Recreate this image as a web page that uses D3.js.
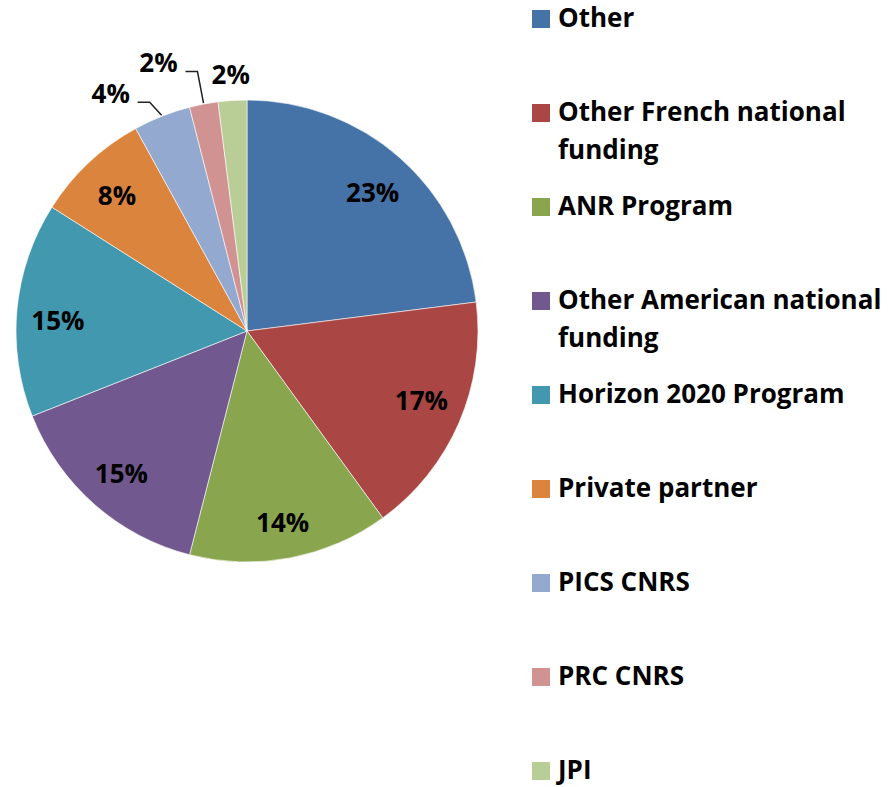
<!DOCTYPE html>
<html>
<head>
<meta charset="utf-8">
<script src="https://cdn.jsdelivr.net/npm/d3@7"></script>
<style>
  body { margin: 0; background: #fff; }
  text { font-family: "Open Sans", Lato, sans-serif; font-weight: 700; fill: #000; }
</style>
</head>
<body>
<div id="chart"></div>
<script>
// データ
const categories = [
  'Other', 'Other French national funding', 'ANR Program',
  'Other American national funding', 'Horizon 2020 Program', 'Private partner',
  'PICS CNRS', 'PRC CNRS', 'JPI'
]
const values = [23, 17, 14, 15, 15, 8, 4, 2, 2]
const legendLines = [
  ['Other'], ['Other French national', 'funding'], ['ANR Program'],
  ['Other American national', 'funding'], ['Horizon 2020 Program'], ['Private partner'],
  ['PICS CNRS'], ['PRC CNRS'], ['JPI']
]
const colors = ['#4572A7', '#AA4643', '#89A54E', '#71588F', '#4198AF', '#DB843D', '#93A9CF', '#D19392', '#B9CD96']

const W = 889, H = 787
const cx = 247, cy = 331, R = 231
const FONT = 26

const svg = d3.select('#chart')
              .append('svg')
              .attr('width', W)
              .attr('height', H)

const pie = d3.pie().sort(null).value(d => d)
const arcs = pie(values)
const arc = d3.arc().innerRadius(0).outerRadius(R)
const labelArc = d3.arc().innerRadius(190).outerRadius(190)
const outerArc = d3.arc().innerRadius(259).outerRadius(259)
const edgeArc = d3.arc().innerRadius(232).outerRadius(232)

const g = svg.append('g').attr('transform', `translate(${cx},${cy})`)

// 扇形
g.selectAll('path.slice')
  .data(arcs)
  .enter()
  .append('path')
  .attr('class', 'slice')
  .attr('d', arc)
  .attr('fill', (d, i) => colors[i])
  .attr('stroke', '#fff')
  .attr('stroke-width', 0.6)

// ラベル（小さい扇形は外側）
const small = d => d.data < 5
const nudgeX = [0, 0, 0, 0, 0, 0, -41, -40, 0]   // 外側ラベルのずらし
const nudgeY = [4, -6, 5, 0, 7, 3, 3, -14, 2]
const labelPos = (d, i) => {
  const p = small(d) ? outerArc.centroid(d) : labelArc.centroid(d)
  return [p[0] + nudgeX[i], p[1] + nudgeY[i]]
}

g.selectAll('text.pct')
  .data(arcs)
  .enter()
  .append('text')
  .attr('class', 'pct')
  .attr('x', (d, i) => labelPos(d, i)[0])
  .attr('y', (d, i) => labelPos(d, i)[1])
  .attr('dy', '0.37em')
  .attr('text-anchor', 'middle')
  .attr('font-size', FONT)
  .text(d => `${d.data}%`)

// 引き出し線
const leaders = arcs.filter((d, i) => small(d) && nudgeX[i] < -20)
g.selectAll('polyline')
  .data(leaders)
  .enter()
  .append('polyline')
  .attr('fill', 'none')
  .attr('stroke', '#222')
  .attr('stroke-width', 1.5)
  .attr('points', d => {
    const p = labelPos(d, d.index)
    const e = edgeArc.centroid(d)
    const x0 = p[0] + 27, y0 = p[1] + 9
    return [[x0, y0], [x0 + 12, y0], e].map(q => q.join(',')).join(' ')
  })

// 凡例
const legend = svg.append('g')
const row = d3.scaleLinear().domain([0, 1]).range([10, 104])

const item = legend.selectAll('g.item')
  .data(categories)
  .enter()
  .append('g')
  .attr('class', 'item')
  .attr('transform', (d, i) => `translate(532,${row(i)})`)

item.append('rect')
  .attr('width', 18)
  .attr('height', 18)
  .attr('fill', (d, i) => colors[i])

item.each(function(d, i) {
  const t = d3.select(this).append('text')
    .attr('x', 26)
    .attr('y', 17)
    .attr('font-size', FONT)
  legendLines[i].forEach((line, k) => {
    t.append('tspan').attr('x', 26).attr('dy', k === 0 ? 0 : 37.5).text(line)
  })
})
</script>
</body>
</html>
